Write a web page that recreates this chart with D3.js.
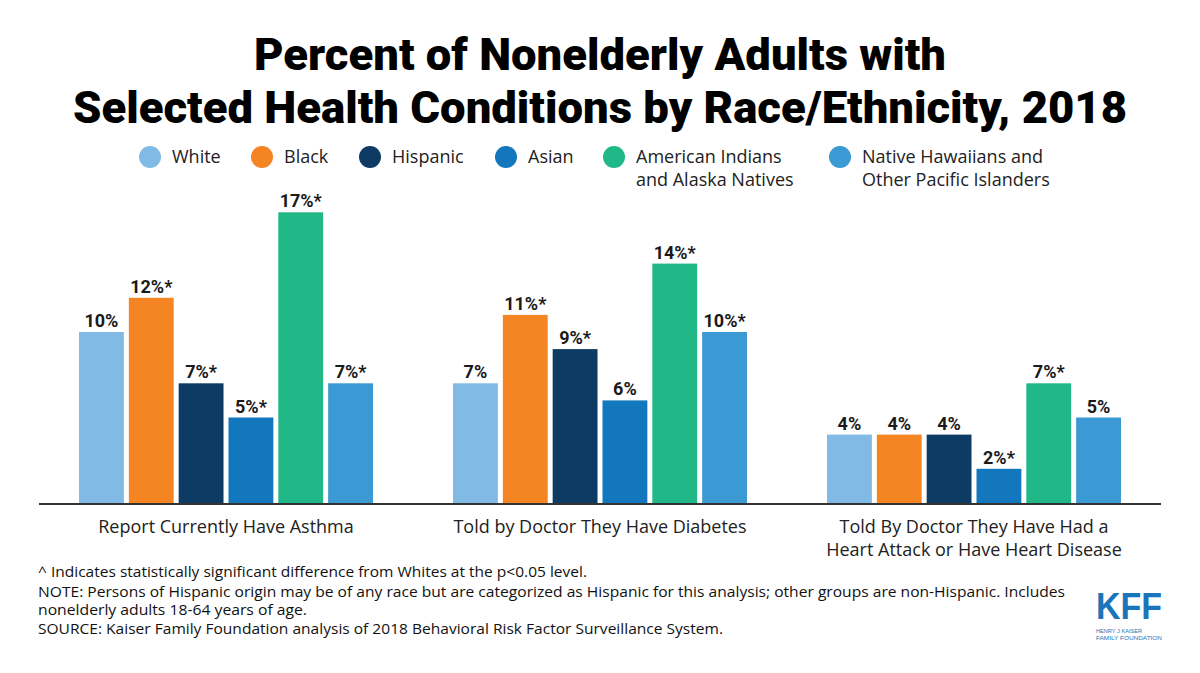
<!DOCTYPE html>
<html>
<head>
<meta charset="utf-8">
<script src="https://cdn.jsdelivr.net/npm/d3@7"></script>
<style>
  body { margin: 0; background: #fff; }
  svg { display: block; }
</style>
</head>
<body>
<svg id="chart" width="1200" height="673"></svg>
<script>
// chart data
const categories = ["Report Currently Have Asthma", "Told by Doctor They Have Diabetes", "Told By Doctor They Have Had a\nHeart Attack or Have Heart Disease"];
const groups = ["White", "Black", "Hispanic", "Asian", "American Indians\nand Alaska Natives", "Native Hawaiians and\nOther Pacific Islanders"];
const colors = ["#80bae5", "#f58423", "#0e3b63", "#1277bd", "#21b887", "#3b99d4"];
const asthma = [10, 12, 7, 5, 17, 7];
const diabetes = [7, 11, 9, 6, 14, 10];
const heart = [4, 4, 4, 2, 7, 5];
const asthma_sig = [false, true, true, true, true, true];
const diabetes_sig = [false, true, true, false, true, true];
const heart_sig = [false, false, false, true, true, false];
const title_lines = ["Percent of Nonelderly Adults with", "Selected Health Conditions by Race/Ethnicity, 2018"];
const notes = [
    "^ Indicates statistically significant difference from Whites at the p<0.05 level.",
    "NOTE: Persons of Hispanic origin may be of any race but are categorized as Hispanic for this analysis; other groups are non-Hispanic. Includes",
    "nonelderly adults 18-64 years of age.",
    "SOURCE: Kaiser Family Foundation analysis of 2018 Behavioral Risk Factor Surveillance System."
];

const series = [asthma, diabetes, heart];
const sigs = [asthma_sig, diabetes_sig, heart_sig];

const svg = d3.select('#chart');
const titleFont = "Roboto, 'Inter', sans-serif";
const bodyFont = "'Open Sans', 'Noto Sans', sans-serif";

// Title
const titleWidths = [692, 1054];
svg.append('g').selectAll('text')
    .data(title_lines).enter().append('text')
    .attr('x', 600)
    .attr('y', (d, i) => 70 + i * 53)
    .attr('text-anchor', 'middle')
    .attr('font-family', titleFont)
    .attr('font-weight', 900)
    .attr('font-size', 44)
    .attr('fill', '#000')
    .attr('textLength', (d, i) => titleWidths[i])
    .attr('lengthAdjust', 'spacingAndGlyphs')
    .text(d => d);

// Legend
const legendX = [150, 262, 370, 506, 614, 840];
const legend = svg.append('g');
groups.forEach((g, i) => {
    legend.append('circle')
        .attr('cx', legendX[i]).attr('cy', 157).attr('r', 11)
        .attr('fill', colors[i]);
    g.split("\n").forEach((line, j) => {
        legend.append('text')
            .attr('x', legendX[i] + 22)
            .attr('y', 163 + j * 23)
            .attr('font-family', bodyFont)
            .attr('font-size', 18)
            .attr('fill', '#222')
            .text(line);
    });
});

// Scales
const x0 = d3.scaleBand()
    .domain(d3.range(categories.length))
    .range([39, 1161])
    .paddingInner(0.214)
    .paddingOuter(0.107);
const x1 = d3.scaleBand()
    .domain(d3.range(groups.length))
    .range([0, x0.bandwidth()])
    .paddingInner(0.1)
    .paddingOuter(0);
const y = d3.scaleLinear()
    .domain([0, 20])
    .range([503, 161]);

// Bars
const barArea = svg.append('g');
series.forEach((vals, ci) => {
    const g = barArea.append('g').attr('transform', 'translate(' + x0(ci) + ',0)');
    g.selectAll('rect')
        .data(vals).enter().append('rect')
        .attr('x', (d, i) => x1(i))
        .attr('y', d => y(d))
        .attr('width', x1.bandwidth())
        .attr('height', d => y(0) - y(d))
        .attr('fill', (d, i) => colors[i]);
    g.selectAll('text')
        .data(vals).enter().append('text')
        .attr('x', (d, i) => x1(i) + x1.bandwidth() / 2)
        .attr('y', d => y(d) - 5)
        .attr('text-anchor', 'middle')
        .attr('font-family', titleFont)
        .attr('font-weight', 700)
        .attr('font-size', 18)
        .attr('fill', '#1a1a1a')
        .text((d, i) => d + '%' + (sigs[ci][i] ? '*' : ''));
});

// Baseline
svg.append('line')
    .attr('x1', 39).attr('x2', 1161)
    .attr('y1', y(0) + 1).attr('y2', y(0) + 1)
    .attr('stroke', '#333').attr('stroke-width', 2);

// Category labels
categories.forEach((c, i) => {
    c.split("\n").forEach((line, j) => {
        svg.append('text')
            .attr('x', x0(i) + x0.bandwidth() / 2)
            .attr('y', 533 + j * 23)
            .attr('text-anchor', 'middle')
            .attr('font-family', bodyFont)
            .attr('font-size', 18)
            .attr('fill', '#222')
            .text(line);
    });
});

// Notes
const noteWidths = [549, 1027, 269, 685];
const noteY = [577, 597, 615, 634];
svg.append('g').selectAll('text')
    .data(notes).enter().append('text')
    .attr('x', 38)
    .attr('y', (d, i) => noteY[i])
    .attr('font-family', bodyFont)
    .attr('font-size', 15)
    .attr('fill', '#111')
    .attr('textLength', (d, i) => noteWidths[i])
    .attr('lengthAdjust', 'spacingAndGlyphs')
    .text(d => d);

// KFF logo
const logo = svg.append('g');
logo.append('text')
    .attr('x', 1096).attr('y', 619)
    .attr('font-family', "'Liberation Sans', Arial, sans-serif")
    .attr('font-weight', 700)
    .attr('font-size', 36)
    .attr('fill', '#1a75bb')
    .attr('textLength', 66)
    .attr('lengthAdjust', 'spacingAndGlyphs')
    .text('KFF');
['HENRY J KAISER', 'FAMILY FOUNDATION'].forEach((t, i) => {
    logo.append('text')
        .attr('x', 1096).attr('y', 633 + i * 7)
        .attr('font-family', "'Liberation Sans', Arial, sans-serif")
        .attr('font-size', 5.5)
        .attr('fill', '#1a75bb')
        .attr('textLength', i == 0 ? 46 : 66)
        .attr('lengthAdjust', 'spacingAndGlyphs')
        .text(t);
});
</script>
</body>
</html>
